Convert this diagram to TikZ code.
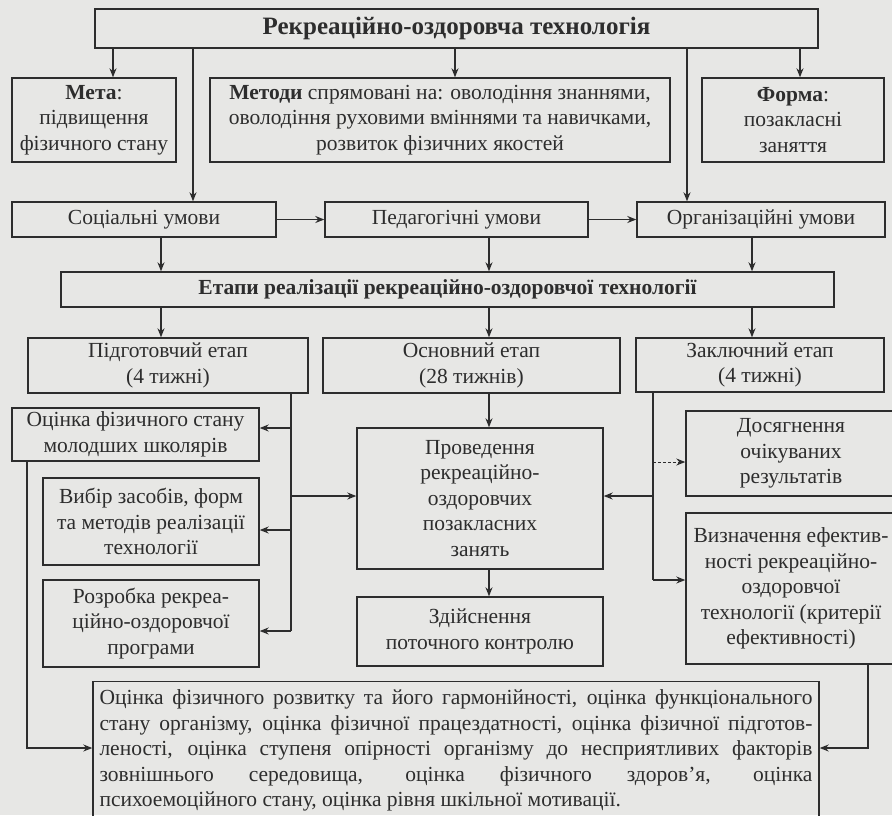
\documentclass[tikz,border=0pt]{standalone}
\usepackage{fontspec}
\setmainfont{Liberation Serif}
\usetikzlibrary{arrows.meta}
\definecolor{bg}{RGB}{231,231,229}
\definecolor{ink}{RGB}{45,45,45}
\newcommand{\fsz}{\fontsize{21.5}{25.5}\selectfont}
\newcommand{\fttl}{\fontsize{25}{29}\selectfont\bfseries}
\newcommand{\fetp}{\fontsize{21.5}{25}\selectfont\bfseries}
\newcommand{\jline}[1]{\makebox[713pt][s]{#1}}
\tikzset{
  box/.style={draw=ink, line width=1.4pt, text=ink, align=center, inner sep=0pt, font=\fsz},
  arr/.style={draw=ink, line width=1.3pt, -{Stealth[length=9pt,width=7pt]}},
  ln/.style={draw=ink, line width=1.3pt},
}
\begin{document}
\begin{tikzpicture}[x=1pt,y=-1pt]
\fill[bg] (0,0) rectangle (892,815);
\useasboundingbox (0,0) rectangle (892,815);

% nodes
\node[box, minimum width=723pt, minimum height=39pt, font=\fttl] (top) at (456.5,28.5) {Рекреаційно-оздоровча технологія};
\node[box, minimum width=164pt, minimum height=84pt] (meta) at (94,120) {\textbf{Мета}:\\підвищення\\фізичного стану};
\node[box, minimum width=460pt, minimum height=84pt] (metody) at (440,120) {\textbf{Методи} спрямовані на: оволодіння знаннями,\\оволодіння руховими вміннями та навичками,\\розвиток фізичних якостей};
\node[box, minimum width=182pt, minimum height=84pt] (forma) at (793,120) {\textbf{Форма}:\\позакласні\\заняття};

\node[box, minimum width=264pt, minimum height=35pt] (soc) at (144,219.5) {Соціальні умови};
\node[box, minimum width=263pt, minimum height=35pt] (ped) at (456.5,219.5) {Педагогічні умови};
\node[box, minimum width=248pt, minimum height=35pt] (org) at (761,219.5) {Організаційні умови};

\node[box, minimum width=773pt, minimum height=35pt, font=\fetp] (etapy) at (447.5,289.5) {Етапи реалізації рекреаційно-оздоровчої технології};

\node[box, minimum width=280pt, minimum height=55pt] (pidg) at (168,365.5) {Підготовчий етап\\(4 тижні)};
\node[box, minimum width=297pt, minimum height=55pt] (osn) at (471.5,365.5) {Основний етап\\(28 тижнів)};
\node[box, minimum width=248pt, minimum height=54pt] (zakl) at (760,365) {Заключний етап\\(4 тижні)};

\node[box, minimum width=247pt, minimum height=53pt] (ocinka) at (135.5,434.5) {Оцінка фізичного стану\\молодших школярів};
\node[box, minimum width=216pt, minimum height=87pt] (vybir) at (151,521.5) {Вибір засобів, форм\\та методів реалізації\\технології};
\node[box, minimum width=216pt, minimum height=87pt] (rozrobka) at (151,623.5) {Розробка рекреа-\\ційно-оздоровчої\\програми};

\node[box, minimum width=246pt, minimum height=141pt] (proved) at (480,498.5) {Проведення\\рекреаційно-\\оздоровчих\\позакласних\\занять};
\node[box, minimum width=246pt, minimum height=69pt] (zdijsn) at (480,631.5) {Здійснення\\поточного контролю};

\node[box, minimum width=210pt, minimum height=85pt] (dosyag) at (791,453.5) {Досягнення\\очікуваних\\результатів};
\node[box, minimum width=210pt, minimum height=151pt] (vyznach) at (791,588.5) {Визначення ефектив-\\ності рекреаційно-\\оздоровчої\\технології (критерії\\ефективності)};

\node[box, minimum width=726pt, minimum height=138pt, align=justify, text width=713pt] (bottom) at (456,750.5) {%
\jline{Оцінка фізичного розвитку та його гармонійності, оцінка функціонального}\\
\jline{стану організму, оцінка фізичної працездатності, оцінка фізичної підготов-}\\
\jline{леності, оцінка ступеня опірності організму до несприятливих факторів}\\
\jline{зовнішнього середовища, оцінка фізичного здоров’я, оцінка}\\
\makebox[713pt][l]{психоемоційного стану, оцінка рівня шкільної мотивації.}};

% column coordinates
\coordinate (xA) at (113,0);
\coordinate (xB) at (193,0);
\coordinate (xC) at (455,0);
\coordinate (xD) at (687,0);
\coordinate (xE) at (800,0);
\coordinate (xF) at (161,0);
\coordinate (xG) at (489,0);
\coordinate (xH) at (752,0);

\draw[arr] (top.south -| xA) -- (meta.north -| xA);
\draw[arr] (top.south -| xB) -- (soc.north -| xB);
\draw[arr] (top.south -| xC) -- (metody.north -| xC);
\draw[arr] (top.south -| xD) -- (org.north -| xD);
\draw[arr] (top.south -| xE) -- (forma.north -| xE);

\draw[arr] (soc.east) -- (ped.west);
\draw[arr] (ped.east) -- (org.west);

\draw[arr] (soc.south -| xF) -- (etapy.north -| xF);
\draw[arr] (ped.south -| xG) -- (etapy.north -| xG);
\draw[arr] (org.south -| xH) -- (etapy.north -| xH);

\draw[arr] (etapy.south -| xF) -- (pidg.north -| xF);
\draw[arr] (etapy.south -| xG) -- (osn.north -| xG);
\draw[arr] (etapy.south -| xH) -- (zakl.north -| xH);

\draw[arr] (osn.south -| xG) -- (proved.north -| xG);
\draw[arr] (proved.south -| xG) -- (zdijsn.north -| xG);

% left bracket
\coordinate (pa) at (291,428);
\coordinate (pb) at (291,496);
\coordinate (pc) at (291,530);
\coordinate (pd) at (291,631);
\draw[ln] (pidg.south -| pa) -- (pd);
\draw[arr] (pa) -- (pa -| ocinka.east);
\draw[arr] (pc) -- (pc -| vybir.east);
\draw[arr] (pd) -- (pd -| rozrobka.east);
\draw[arr] (pb) -- (pb -| proved.west);

% right bracket
\coordinate (qa) at (653,462);
\coordinate (qb) at (653,496);
\coordinate (qc) at (653,580);
\draw[ln] (zakl.south -| qa) -- (qc);
\draw[arr, dash pattern=on 3pt off 2pt, line width=1pt] (qa) -- (qa -| dosyag.west);
\draw[arr] (qb) -- (qb -| proved.east);
\draw[arr] (qc) -- (qc -| vyznach.west);

% to bottom box
\coordinate (ba) at (27,748);
\coordinate (bb) at (868,748);
\draw[arr] (ocinka.south -| ba) -- (ba) -- (ba -| bottom.west);
\draw[arr] (vyznach.south -| bb) -- (bb) -- (bb -| bottom.east);
\end{tikzpicture}
\end{document}
